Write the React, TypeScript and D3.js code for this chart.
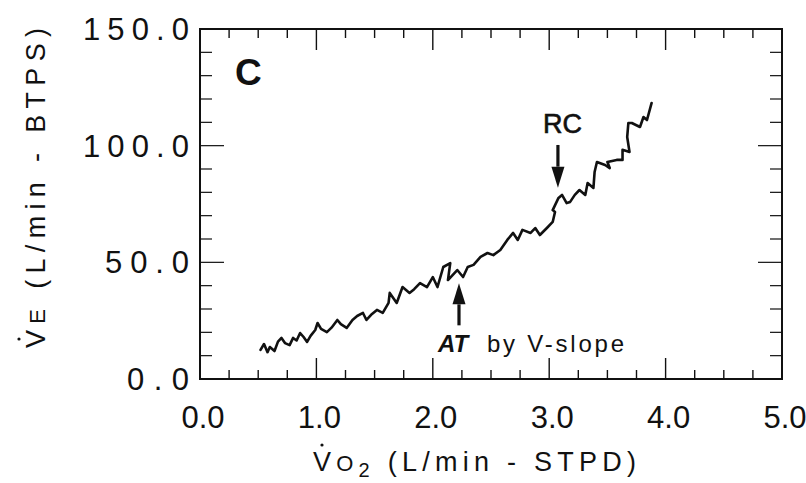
import React from 'react';
import * as d3 from 'd3';

// breath-by-breath trace
const vo2 = [0.52, 0.55, 0.58, 0.6, 0.64, 0.67, 0.7, 0.73, 0.77, 0.8, 0.83, 0.86, 0.89, 0.92, 0.95, 0.99, 1.01, 1.04, 1.09, 1.13, 1.18, 1.21, 1.26, 1.31, 1.35, 1.4, 1.43, 1.47, 1.52, 1.57, 1.62, 1.63, 1.69, 1.74, 1.8, 1.84, 1.89, 1.95, 2.0, 2.04, 2.09, 2.15, 2.13, 2.21, 2.26, 2.3, 2.35, 2.41, 2.47, 2.52, 2.58, 2.64, 2.69, 2.73, 2.77, 2.84, 2.88, 2.92, 2.98, 3.03, 3.05, 3.03, 3.08, 3.11, 3.15, 3.18, 3.22, 3.26, 3.31, 3.33, 3.38, 3.39, 3.41, 3.48, 3.52, 3.5, 3.58, 3.63, 3.63, 3.69, 3.67, 3.68, 3.71, 3.78, 3.81, 3.84, 3.88];
const ve = [12.5, 15.0, 11.5, 13.7, 12.0, 16.0, 17.6, 15.4, 14.5, 17.6, 16.5, 19.7, 18.0, 15.9, 18.5, 21.0, 24.0, 21.5, 20.1, 22.0, 25.3, 23.5, 21.9, 25.3, 27.0, 28.3, 25.3, 27.5, 29.6, 28.3, 32.6, 36.9, 32.6, 39.4, 36.9, 38.5, 41.1, 39.4, 43.7, 39.4, 48.0, 49.7, 42.4, 46.7, 43.7, 48.0, 48.9, 52.3, 54.0, 53.1, 55.3, 59.6, 62.6, 59.6, 63.9, 62.6, 64.7, 61.7, 64.7, 67.3, 71.6, 72.4, 77.6, 78.9, 75.4, 75.9, 78.9, 81.0, 78.9, 84.0, 81.9, 88.7, 93.0, 91.7, 90.4, 93.0, 93.9, 93.9, 98.2, 97.3, 103.7, 109.7, 109.7, 108.0, 112.3, 111.0, 118.3];

const xTickLabels = ['0.0', '1.0', '2.0', '3.0', '4.0', '5.0'];
const yTickLabels = ['0.0', '50.0', '100.0', '150.0'];

// arrows: [vo2, from ve, to ve]
const atArrow = [2.225, 23, 41];
const rcArrow = [3.075, 100.3, 82];

const W = 806;
const H = 483;
const left = 200, right = 782, top = 29, bottom = 379;
const font = '"Liberation Sans", Arial, sans-serif';
const ink = '#111';

function Arrow({ x, y0, y1 }: { x: number; y0: number; y1: number }) {
  const dir = y1 > y0 ? 1 : -1;
  const head = 21;
  return (
    <g>
      <line x1={x} x2={x} y1={y0} y2={y1 - dir * head} stroke={ink} strokeWidth={3.2} />
      <path d={`M${x - 6.5},${y1 - dir * head} L${x + 6.5},${y1 - dir * head} L${x},${y1} Z`} fill={ink} />
    </g>
  );
}

export default function App() {
  const x = d3.scaleLinear().domain([0, 5]).range([left, right]);
  const y = d3.scaleLinear().domain([0, 150]).range([bottom, top]);

  const pts = vo2.map((v, i) => [v, ve[i]] as [number, number]);
  const line = d3.line<[number, number]>().x(d => x(d[0])).y(d => y(d[1]));

  const xTicks = d3.range(0, 5.001, 0.25);
  const yTicks = d3.range(0, 150.1, 10);

  return (
    <svg width={W} height={H} style={{ position: 'absolute', left: 0, top: 0, background: '#fff' }}>
      {/* frame */}
      <rect x={left} y={top} width={right - left} height={bottom - top} fill="none" stroke={ink} strokeWidth={2} />

      {/* x ticks, bottom and top */}
      {xTicks.map((t, i) => {
        const major = Math.abs(t - Math.round(t)) < 1e-6;
        const len = major ? 21 : 9;
        return (
          <g key={'xt' + i}>
            <line x1={x(t)} x2={x(t)} y1={bottom} y2={bottom - len} stroke={ink} strokeWidth={1.4} />
            <line x1={x(t)} x2={x(t)} y1={top} y2={top + len} stroke={ink} strokeWidth={1.4} />
          </g>
        );
      })}
      {/* y ticks, left and right */}
      {yTicks.map((t, i) => {
        const major = t % 50 === 0;
        const len = major ? 24 : 12;
        return (
          <g key={'yt' + i}>
            <line x1={left} x2={left + len} y1={y(t)} y2={y(t)} stroke={ink} strokeWidth={1.2} />
            <line x1={right} x2={right - len} y1={y(t)} y2={y(t)} stroke={ink} strokeWidth={1.2} />
          </g>
        );
      })}

      {/* tick labels */}
      {xTickLabels.map((s, i) => (
        <text key={'xl' + i} x={x(+s) + 3} y={428} textAnchor="middle" fontFamily={font} fontSize={31} fill={ink}>
          {s}
        </text>
      ))}
      {yTickLabels.map((s, i) => {
        const w = s.length === 5 ? 106 : s.length === 4 ? 84 : 62;
        return (
          <text key={'yl' + i} x={189 - w} y={y(+s) + 11} fontFamily={font} fontSize={31} fill={ink}
            textLength={w} lengthAdjust="spacing">
            {s}
          </text>
        );
      })}

      {/* axis titles */}
      <text x={313} y={471} fontFamily={font} fontSize={27} fill={ink} textLength={323} lengthAdjust="spacing">
        V<tspan fontSize={22}>O</tspan><tspan fontSize={20} dy={6}>2</tspan><tspan dy={-6}> (L/min - STPD)</tspan>
      </text>
      <circle cx={322} cy={445} r={1.6} fill={ink} />
      <g transform="translate(45,348) rotate(-90)">
        <text x={0} y={0} fontFamily={font} fontSize={27} fill={ink} textLength={320} lengthAdjust="spacing">
          V<tspan fontSize={22}>E</tspan> (L/min - BTPS)
        </text>
        <circle cx={9} cy={-26} r={1.6} fill={ink} />
      </g>

      {/* trace */}
      <path d={line(pts) ?? ''} fill="none" stroke={ink} strokeWidth={2.6} strokeLinejoin="round" strokeLinecap="round" />

      {/* annotations */}
      <text x={235} y={85} fontFamily={font} fontSize={37} fontWeight="bold" fill={ink}>C</text>
      <text x={543} y={133} fontFamily={font} fontSize={27} fill={ink} stroke={ink} strokeWidth={0.6}>RC</text>
      <Arrow x={x(rcArrow[0])} y0={y(rcArrow[1])} y1={y(rcArrow[2])} />
      <Arrow x={x(atArrow[0])} y0={y(atArrow[1])} y1={y(atArrow[2])} />
      <text x={438} y={352} fontFamily={font} fontSize={24} fontWeight="bold" fontStyle="italic" fill={ink}>AT</text>
      <text x={487} y={352} fontFamily={font} fontSize={24} fill={ink} textLength={137} lengthAdjust="spacing">by V-slope</text>
    </svg>
  );
}
